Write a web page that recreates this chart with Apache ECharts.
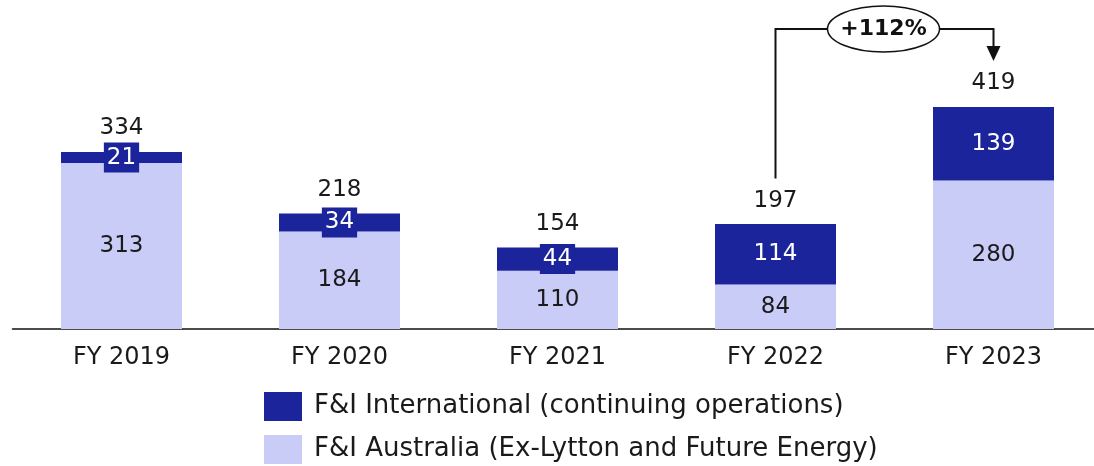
<!DOCTYPE html>
<html>
<head>
<meta charset="utf-8">
<script src="https://cdn.jsdelivr.net/npm/echarts@6/dist/echarts.min.js"></script>
<style>
  html, body { margin: 0; padding: 0; background: #fff; }
  #main { width: 1094px; height: 466px; }
</style>
</head>
<body>
<div id="main"></div>
<script>
// data
var years = ['FY 2019', 'FY 2020', 'FY 2021', 'FY 2022', 'FY 2023'];
var australia = [313, 184, 110, 84, 280];
var international = [21, 34, 44, 114, 139];
var totals = [334, 218, 154, 197, 419];
var growthText = '+112%';
var intlName = 'F&I International (continuing operations)';
var ausName = 'F&I Australia (Ex-Lytton and Future Energy)';

var dark = '#1b249b';
var light = '#c9ccf6';
var font = 'DejaVu Sans';
var ink = '#1a1a1a';

var chart = echarts.init(document.getElementById('main'));

function legendAt(name, top) {
  return {
    orient: 'vertical',
    left: 264, top: top, padding: 0,
    itemWidth: 38, itemHeight: 29,
    icon: 'rect',
    data: [name],
    textStyle: { fontSize: 26, color: ink, fontFamily: font, padding: [3, 0, 0, 7] }
  };
}

var option = {
  animation: false,
  textStyle: { fontFamily: font },
  grid: { left: 12.5, top: 11, width: 1090, height: 318, outerBoundsMode: 'none', containLabel: false },
  legend: [legendAt(intlName, 392), legendAt(ausName, 435)],
  xAxis: {
    type: 'category',
    data: years,
    axisLine: { lineStyle: { color: '#111', width: 1.5 } },
    axisTick: { show: false },
    axisLabel: { fontSize: 24, color: ink, margin: 17 }
  },
  yAxis: {
    type: 'value', min: 0, max: 600,
    show: false,
    splitLine: { show: false }
  },
  series: [
    {
      name: ausName,
      type: 'bar', stack: 'a', barWidth: 121,
      itemStyle: { color: light },
      label: { show: true, position: 'inside', fontSize: 23, color: ink },
      data: australia
    },
    {
      name: intlName,
      type: 'bar', stack: 'a', barWidth: 121,
      itemStyle: { color: dark },
      label: {
        show: true, position: 'inside', fontSize: 23, color: '#fff',
        backgroundColor: dark, padding: [4, 3, 3, 3]
      },
      data: international
    },
    {
      name: 'total',
      type: 'bar', stack: 'a', barWidth: 121,
      itemStyle: { color: 'transparent' },
      label: {
        show: true, position: 'top', distance: 12, fontSize: 23, color: ink,
        formatter: function (p) { return totals[p.dataIndex]; }
      },
      data: totals.map(function () { return 0; })
    }
  ]
};
chart.setOption(option);

// growth annotation between FY 2022 and FY 2023
var from = chart.convertToPixel({ seriesIndex: 0 }, [3, totals[3]]);
var to = chart.convertToPixel({ seriesIndex: 0 }, [4, totals[4]]);
var topY = 29;
var x1 = from[0], x2 = to[0];
var y1 = from[1] - 46, y2 = to[1] - 46;
var cx = (x1 + x2) / 2 - 1;

chart.setOption({
  graphic: [
    {
      type: 'polyline',
      shape: { points: [[x1, y1], [x1, topY], [x2, topY], [x2, y2 - 14]] },
      style: { stroke: '#111', lineWidth: 2, fill: null }
    },
    {
      type: 'polygon',
      shape: { points: [[x2 - 7, y2 - 15], [x2 + 7, y2 - 15], [x2, y2]] },
      style: { fill: '#111' }
    },
    {
      type: 'ellipse',
      shape: { cx: cx, cy: topY, rx: 56, ry: 23 },
      style: { fill: '#fff', stroke: '#111', lineWidth: 1.5 }
    },
    {
      type: 'text',
      x: cx, y: topY,
      style: {
        text: growthText, fontSize: 22, fontWeight: 'bold', fontFamily: font,
        fill: '#111', align: 'center', verticalAlign: 'middle'
      }
    }
  ]
});
</script>
</body>
</html>
